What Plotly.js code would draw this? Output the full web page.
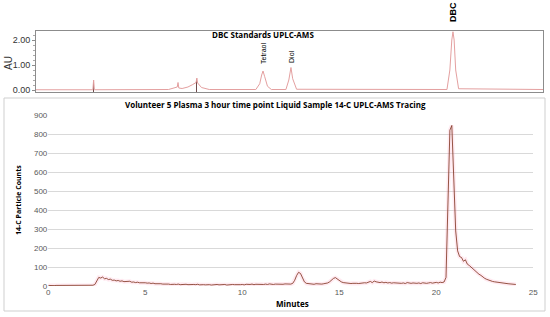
<!DOCTYPE html>
<html>
<head>
<meta charset="utf-8">
<script src="https://cdn.plot.ly/plotly-3.0.1.min.js"></script>
<style>
  body { margin: 0; background: #fff; }
  #chart { width: 550px; height: 317px; }
</style>
</head>
<body>
<div id="chart"></div>
<script>
// top panel: DBC standards, UV trace (minutes, AU)
var stdTimes = [-0.63, 2.30, 2.34, 2.38, 6.2, 6.5, 6.65, 6.69, 6.73, 6.9, 7.2, 7.45, 7.62, 7.66, 7.70, 7.9, 8.3,
  10.7, 10.9, 11.0, 11.07, 11.15, 11.3, 11.5, 12.25, 12.4, 12.51, 12.6, 12.8,
  20.55, 20.7, 20.8, 20.86, 20.92, 21.0, 21.15, 25.5];
var stdAU = [0.01, 0.01, 0.40, 0.01, 0.02, 0.08, 0.12, 0.30, 0.08, 0.06, 0.12, 0.22, 0.30, 0.48, 0.28, 0.10, 0.02,
  0.02, 0.25, 0.60, 0.76, 0.55, 0.15, 0.02, 0.02, 0.40, 0.90, 0.45, 0.03,
  0.02, 0.80, 2.00, 2.33, 2.00, 0.80, 0.05, 0.02];

// dark spikes at peak apex
var spikeTimes = [2.34, 6.69, 7.66, 11.07, 12.51, 20.86];
var spikeAU = [0.42, 0.32, 0.50, 0.70, 0.80, 2.30];

var peakLabels = ["Tetraol", "Diol", "DBC"];
var peakLabelTimes = [11.07, 12.51, 20.86];

// bottom panel: 14-C particle counts, one reading every 0.1 min from 0
var amsStart = 0;
var amsStep = 0.1;
var amsCounts = [
  3,2,3,2,3,3,2,3,2,3,
  2,3,3,2,3,2,3,3,2,3,
  3,2,3,4,8,30,45,42,47,38,
  40,34,36,30,31,27,29,25,27,23,
  24,22,25,20,21,18,20,17,18,16,
  17,15,16,13,15,12,13,11,12,10,
  11,9,10,8,10,9,8,10,7,9,
  8,9,7,8,6,8,7,9,6,8,
  7,6,8,7,5,7,6,8,6,7,
  6,8,5,7,6,8,7,6,8,7,
  8,6,9,7,8,10,7,9,8,10,
  9,8,10,8,11,9,8,10,9,11,
  10,9,11,10,12,10,14,30,55,72,
  66,40,22,14,12,10,11,9,12,10,
  11,10,12,13,16,22,32,40,44,36,
  28,22,18,16,14,15,13,14,12,14,
  13,15,14,17,16,20,24,18,26,22,
  20,18,21,17,19,16,18,15,17,16,
  15,17,14,16,13,18,15,14,16,13,
  14,16,13,17,15,14,16,18,15,17,
  19,16,20,18,21,45,400,820,845,600,
  290,185,155,150,130,138,115,108,98,90,
  80,72,62,56,46,40,35,30,28,24,
  22,20,18,16,17,14,13,12,11,10,
  9,8
];

var W = 550, H = 317;
function px(x) { return x / W; }
function py(y) { return 1 - y / H; }

var tickFont = { family: "Liberation Sans, Arial", size: 8, color: "#595959" };
var boldFont = { family: "Open Sans, Arial", size: 8, color: "#000" };

var data = [
  {
    x: stdTimes, y: stdAU, xaxis: "x2", yaxis: "y2",
    type: "scatter", mode: "lines",
    line: { color: "#e4a0a0", width: 1 },
    hoverinfo: "skip"
  },
  {
    x: spikeTimes, y: spikeAU, base: -0.06, xaxis: "x2", yaxis: "y2",
    type: "bar", width: 0.04,
    marker: { color: "#6e4a4a" },
    hoverinfo: "skip"
  },
  {
    x0: amsStart, dx: amsStep, y: amsCounts,
    type: "scatter", mode: "lines",
    line: { color: "rgba(255,170,200,0.25)", width: 4 },
    hoverinfo: "skip"
  },
  {
    x0: amsStart, dx: amsStep, y: amsCounts,
    type: "scatter", mode: "lines",
    line: { color: "#7b2d18", width: 0.8 }
  }
];

function note(text, x, y, font, angle, xref) {
  return { text: text, xref: xref || "paper", yref: "paper", x: x, y: y,
    xanchor: "center", yanchor: "middle", textangle: angle || 0,
    showarrow: false, font: font };
}

var annotations = [
  note("<b>DBC Standards UPLC-AMS</b>", px(263), py(35), boldFont),
  note("<b>Volunteer 5 Plasma 3 hour time point Liquid Sample 14-C UPLC-AMS Tracing</b>", px(275), py(105), boldFont),
  note("AU", px(9), py(63), { family: "Liberation Sans, Arial", size: 10, color: "#333" }, -90),
  note("<b>14-C Particle Counts</b>", px(18), py(200), { family: "Open Sans, Arial", size: 7, color: "#000" }, -90),
  note("<b>Minutes</b>", px(292), py(303), boldFont)
];
var labelY = [54, 56, 12];
peakLabels.forEach(function (lab, i) {
  annotations.push(note(i === 2 ? "<b>" + lab + "</b>" : lab, peakLabelTimes[i], py(labelY[i]),
    { family: "Liberation Sans, Arial", size: i === 2 ? 9 : 7, color: "#000" }, -90, "x2"));
});

var layout = {
  width: W, height: H,
  margin: { l: 0, r: 0, t: 0, b: 0 },
  paper_bgcolor: "#fff", plot_bgcolor: "rgba(0,0,0,0)",
  showlegend: false,
  bargap: 0,
  xaxis: {
    domain: [px(48.3), px(533.3)], range: [0, 25], anchor: "y",
    tickvals: [0, 5, 10, 15, 20, 25], showgrid: false, zeroline: false, showline: false,
    ticks: "", tickfont: tickFont
  },
  yaxis: {
    domain: [py(286), py(115)], range: [0, 900], anchor: "x",
    dtick: 100, gridcolor: "#d9d9d9", gridwidth: 1, zeroline: false, showline: false,
    ticks: "", tickfont: tickFont
  },
  xaxis2: {
    domain: [px(36), px(543)], range: [-0.63, 25.5], anchor: "y2",
    showticklabels: false, ticks: "", showgrid: false, zeroline: false,
    showline: true, mirror: true, linecolor: "#8c8c8c", linewidth: 1
  },
  yaxis2: {
    domain: [py(92), py(31)], range: [-0.08, 2.36], anchor: "x2",
    tickvals: [0, 1, 2], tickformat: ".2f", showgrid: false, zeroline: false,
    showline: true, mirror: true, linecolor: "#8c8c8c", linewidth: 1,
    ticks: "outside", ticklen: 3, tickcolor: "#8c8c8c",
    minor: { ticks: "outside", ticklen: 2, dtick: 0.2, tickcolor: "#aaa" },
    tickfont: { family: "Liberation Sans, Arial", size: 9, color: "#333" }
  },
  shapes: [
    { type: "rect", xref: "paper", yref: "paper", x0: px(4), x1: px(545), y0: py(311), y1: py(98),
      line: { color: "#cfcfcf", width: 1 } }
  ],
  annotations: annotations
};

Plotly.newPlot("chart", data, layout, { displayModeBar: false, staticPlot: true });
</script>
</body>
</html>
